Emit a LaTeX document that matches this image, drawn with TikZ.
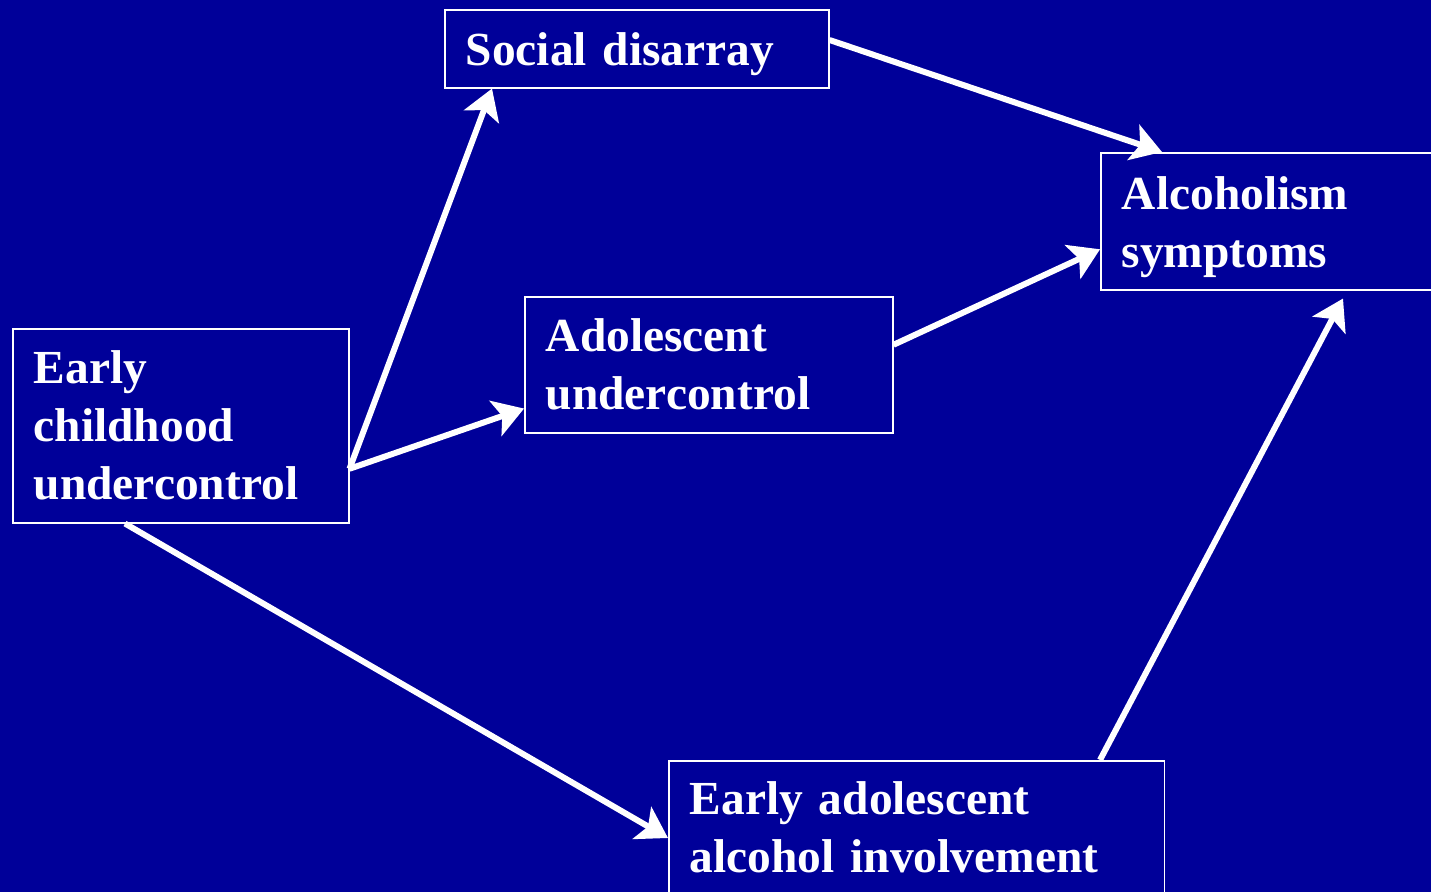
\documentclass[tikz,border=0pt]{standalone}
\usepackage{fontspec}
\setmainfont{Liberation Serif}
\usetikzlibrary{arrows.meta,calc}
\definecolor{slideblue}{RGB}{0,0,153}
\tikzset{
  box/.style={draw=white, line width=0.9pt, text=white, anchor=north west, align=left,
    inner xsep=0.42cm, inner ysep=0pt,
    font=\bfseries\fontsize{27}{33}\selectfont},
  link/.style={draw=white, line width=3.4pt, -{Stealth[length=0.6cm,width=0.74cm,inset=0.14cm]}}
}
\begin{document}
\begin{tikzpicture}[x=0.02cm,y=-0.02cm]
        \fill[slideblue] (0,0) rectangle (1431,892);
        \useasboundingbox (0,0) rectangle (1431,892);
        \draw (444,9)   node[box, text width=6.84cm, minimum height=1.56cm, text depth=0pt] (soc) {Social disarray};
        \draw (1100,152) node[box, text width=6.0cm, minimum height=2.74cm, text height=0.89cm] (alc) {Alcoholism\\symptoms};
        \draw (524,296) node[box, text width=6.52cm, minimum height=2.72cm] (ado) {Adolescent\\undercontrol};
        \draw (12,328)  node[box, text width=5.88cm, minimum height=3.88cm] (ech) {Early\\childhood\\undercontrol};
        \draw (668,760) node[box, text width=9.08cm, minimum height=3.0cm, text depth=1.49cm] (eaa) {Early adolescent\\alcohol involvement};
        \draw[link] ($(ech.east)+(0,43)$) -- ($(soc.south west)+(48,0)$);
        \draw[link] ($(ech.east)+(0,43)$) -- ($(ado.south west)+(0,-25)$);
        \draw[link] ($(soc.north east)+(0,31)$) -- ($(alc.north west)+(62,0)$);
        \draw[link] ($(ado.east)+(0,-20)$) -- ($(alc.west)+(0,28)$);
        \draw[link] ($(ech.south west)+(113,0)$) -- ($(eaa.north west)+(0,78)$);
        \draw[link] ($(eaa.north west)+(432,0)$) -- ($(alc.south west)+(243,8)$);
    \end{tikzpicture}
\end{document}
